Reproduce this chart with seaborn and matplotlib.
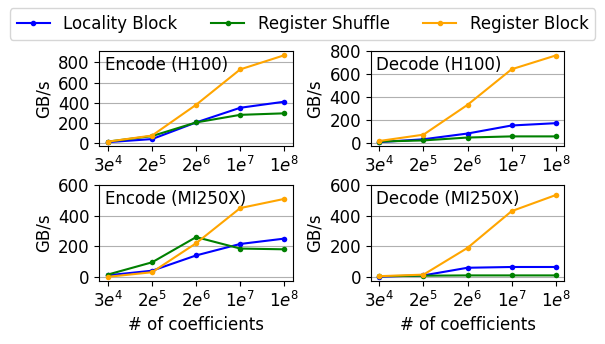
import pandas as pd
import matplotlib.pyplot as plt
import seaborn as sns

# x categories (number of coefficients)
sizes = ["$3e^4$", "$2e^5$", "$2e^6$", "$1e^7$", "$1e^8$"]
methods = ["Locality Block", "Register Shuffle", "Register Block"]
colors = ["blue", "green", "orange"]

# throughput in GB/s, per panel, per method
enc_h100 = {
    "Locality Block": [10, 40, 205, 350, 410],
    "Register Shuffle": [15, 70, 205, 280, 295],
    "Register Block": [15, 75, 380, 730, 870],
}
dec_h100 = {
    "Locality Block": [5, 30, 80, 150, 170],
    "Register Shuffle": [10, 20, 45, 55, 55],
    "Register Block": [15, 70, 330, 640, 760],
}
enc_mi250x = {
    "Locality Block": [10, 40, 140, 215, 250],
    "Register Shuffle": [15, 95, 260, 185, 180],
    "Register Block": [0, 30, 220, 450, 510],
}
dec_mi250x = {
    "Locality Block": [2, 10, 60, 65, 65],
    "Register Shuffle": [5, 8, 10, 10, 10],
    "Register Block": [5, 15, 190, 430, 535],
}

panels = [
    ("Encode (H100)", enc_h100, [0, 200, 400, 600, 800], None),
    ("Decode (H100)", dec_h100, [0, 200, 400, 600, 800], None),
    ("Encode (MI250X)", enc_mi250x, [0, 200, 400, 600], 600),
    ("Decode (MI250X)", dec_mi250x, [0, 200, 400, 600], 600),
]

plt.rcParams["font.size"] = 12
fig, axes = plt.subplots(2, 2, figsize=(6.05, 3.44), dpi=100)
fig.subplots_adjust(left=0.164, right=0.933, top=0.852, bottom=0.184,
                    wspace=0.40, hspace=0.405)

for ax, (title, data, yticks, ytop) in zip(axes.flat, panels):
    rows = []
    for m in methods:
        for i, v in enumerate(data[m]):
            rows.append({"x": i, "GB/s": v, "method": m})
    df = pd.DataFrame(rows)
    sns.lineplot(data=df, x="x", y="GB/s", hue="method", hue_order=methods,
                 palette=colors, marker="o", markersize=4, markeredgewidth=0,
                 linewidth=1.5, ax=ax, legend=False, zorder=3)
    ax.set_xticks(range(len(sizes)))
    ax.set_xticklabels(sizes)
    ax.set_yticks(yticks)
    if ytop is not None:
        ax.set_ylim(top=ytop)
    ax.grid(axis="y", color="#b0b0b0", linewidth=0.8)
    ax.set_axisbelow(True)
    ax.text(0.03, 0.95, title, transform=ax.transAxes, va="top", ha="left")
    ax.set_ylabel("GB/s")
    ax.set_xlabel("")

for ax in axes[1]:
    ax.set_xlabel("# of coefficients")

handles = [plt.Line2D([], [], color=c, marker="o", markersize=3, linewidth=1.5)
           for c in colors]
fig.legend(handles, methods, loc="upper center", ncol=3,
           bbox_to_anchor=(0.5, 1.0), fontsize=12)

plt.savefig("out.png", dpi=100)
